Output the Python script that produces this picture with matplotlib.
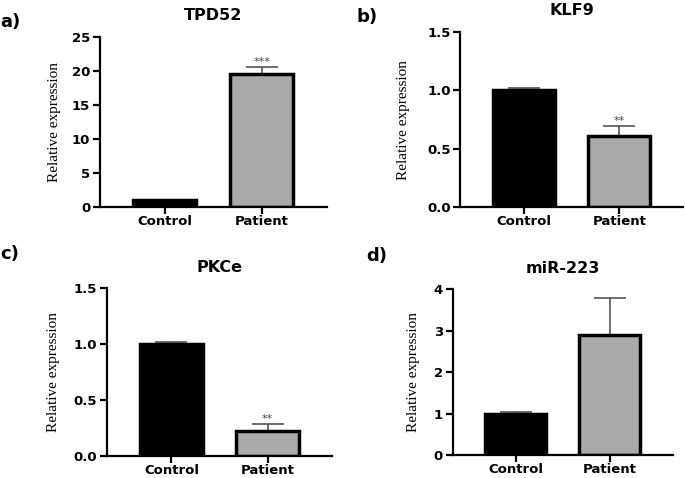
import numpy as np
import matplotlib
matplotlib.use('Agg')
import matplotlib.pyplot as plt

# data
groups = ['Control', 'Patient']
genes = ['TPD52', 'KLF9', 'PKCe', 'miR-223']
panel_tags = ['a)', 'b)', 'c)', 'd)']
means = [[1.0, 19.6], [1.0, 0.61], [1.0, 0.22], [1.0, 2.89]]
errs = [[0.05, 0.9], [0.02, 0.08], [0.02, 0.065], [0.03, 0.89]]
stars = ['***', '**', '**', '']
yticks = [[0, 5, 10, 15, 20, 25], [0.0, 0.5, 1.0, 1.5],
          [0.0, 0.5, 1.0, 1.5], [0, 1, 2, 3, 4]]
tick_fmt = ['{:.0f}', '{:.1f}', '{:.1f}', '{:.0f}']
bar_colors = ['black', '#aaaaaa']

fig = plt.figure(figsize=(6.85, 4.78), dpi=100)

# axes boxes [left, bottom, width, height]
boxes = [[0.146, 0.567, 0.331, 0.356],
         [0.672, 0.567, 0.325, 0.366],
         [0.156, 0.047, 0.329, 0.350],
         [0.661, 0.048, 0.321, 0.347]]
tag_pos = [(0.0, 0.955), (0.52, 0.965), (0.0, 0.468), (0.535, 0.465)]
ylab_pad = [8, 12, 10, 10]

for i in range(4):
    ax = fig.add_axes(boxes[i])
    x = np.arange(len(groups))
    ax.bar(x, means[i], width=0.65, color=bar_colors, edgecolor='black',
           linewidth=2.5, zorder=2)
    ax.errorbar(x, means[i], yerr=[[0, 0], errs[i]], fmt='none',
                ecolor='#555555', elinewidth=1.2, capsize=11.5, capthick=1.2,
                zorder=1)
    if stars[i]:
        top = means[i][1] + errs[i][1]
        ax.text(1, top, stars[i], ha='center', va='bottom', fontsize=8,
                color='#444444')
    ax.set_xlim(-0.67, 1.67)
    ax.set_ylim(yticks[i][0], yticks[i][-1])
    ax.set_yticks(yticks[i])
    ax.set_yticklabels([tick_fmt[i].format(v) for v in yticks[i]],
                       fontweight='bold', fontsize=9.5, family='DejaVu Sans')
    ax.set_xticks(x)
    ax.set_xticklabels(groups, fontweight='bold', fontsize=9.5,
                       family='DejaVu Sans')
    for s in ['top', 'right']:
        ax.spines[s].set_visible(False)
    for s in ['left', 'bottom']:
        ax.spines[s].set_linewidth(1.6)
    ax.tick_params(width=1.6, length=5, pad=2)
    ax.tick_params(axis='x', pad=1)
    ax.set_ylabel('Relative expression', family='Liberation Serif', fontsize=11,
                  labelpad=ylab_pad[i])
    ax.set_title(genes[i], fontweight='bold', fontsize=11.5,
                 family='DejaVu Sans', pad=12)
    fig.text(tag_pos[i][0], tag_pos[i][1], panel_tags[i], fontweight='bold',
             fontsize=13, family='DejaVu Sans', va='center')

plt.savefig('out.png', dpi=100)
